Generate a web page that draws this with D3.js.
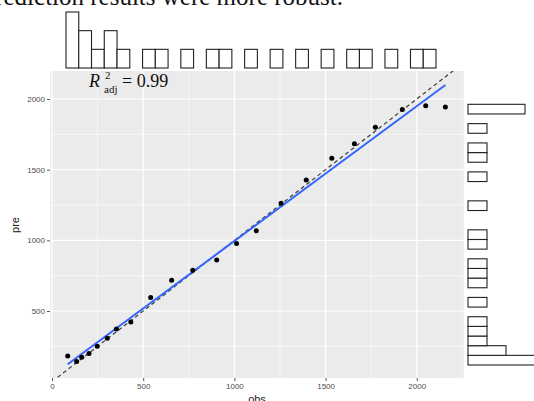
<!DOCTYPE html>
<html lang="en">
<head>
    <meta charset="UTF-8">
    <title>obs vs pre</title>
    <script type="text/javascript" src="https://cdn.jsdelivr.net/npm/d3@7"></script>
    <style type="text/css">
        body { margin: 0; background: white; }
        svg { display: block; }
        .tick-label { font-family: "Liberation Sans", Arial, sans-serif; font-size: 8px; fill: #4d4d4d; }
        .axis-title { font-family: "Liberation Sans", Arial, sans-serif; font-size: 11px; fill: #222; }
        .serif { font-family: "Liberation Serif", "Times New Roman", serif; fill: #111; }
    </style>
</head>
<body>
    <script type="text/javascript">
        var obs = [86, 135, 163, 203, 248, 303, 353, 432, 541, 656, 772, 903, 1012, 1120, 1256, 1394, 1534, 1658, 1773, 1921, 2049, 2157];
        var pre = [182, 142, 173, 200, 250, 307, 373, 423, 596, 717, 788, 861, 978, 1067, 1262, 1426, 1581, 1684, 1800, 1925, 1952, 1943];

        var xTicks = [0, 500, 1000, 1500, 2000];
        var yTicks = [500, 1000, 1500, 2000];
        var xMinor = [250, 750, 1250, 1750, 2250];
        var yMinor = [250, 750, 1250, 1750];

        // fitted line (lm) and 1:1 reference
        var lmIntercept = 41;
        var lmSlope = 0.954;
        var lmRange = [86, 2157];
        var refRange = [0, 2300];

        // marginal histograms, counts per bin
        var topCounts = [3, 2, 1, 2, 1, 0, 1, 1, 0, 1, 0, 1, 1, 0, 1, 0, 1, 0, 1, 0, 1, 0, 1, 1, 0, 1, 0, 1, 1];
        // right histogram, from the bottom bin upwards
        var rightCounts = [4, 2, 1, 1, 1, 0, 1, 0, 1, 1, 1, 0, 1, 1, 0, 0, 1, 0, 0, 1, 0, 1, 1, 0, 1, 0, 3, 0, 0];

        var rAdjLabel = "0.99";
        var bodyText = "prediction results were more robust.";

        var width = 534;
        var height = 401;
        var panel = { left: 50, right: 464, top: 71, bottom: 378 };

        var svg = d3.select('body')
            .append('svg')
            .attr('width', width)
            .attr('height', height);

        svg.append('rect')
            .attr('width', width)
            .attr('height', height)
            .attr('fill', 'white');

        var scaleX = d3.scaleLinear()
            .domain([-11, 2259])
            .range([panel.left, panel.right]);
        var scaleY = d3.scaleLinear()
            .domain([26, 2198])
            .range([panel.bottom, panel.top]);

        // text of the page the figure sits in (cut off at the top, as in the source)
        svg.append('text')
            .attr('class', 'serif')
            .attr('x', 343)
            .attr('y', 5)
            .attr('text-anchor', 'end')
            .style('font-size', '25px')
            .text(bodyText);

        // panel background
        svg.append('rect')
            .attr('x', panel.left)
            .attr('y', panel.top)
            .attr('width', panel.right - panel.left)
            .attr('height', panel.bottom - panel.top)
            .attr('fill', '#ebebeb');

        svg.append('clipPath')
            .attr('id', 'panel-clip')
            .append('rect')
            .attr('x', panel.left)
            .attr('y', panel.top)
            .attr('width', panel.right - panel.left)
            .attr('height', panel.bottom - panel.top);

        var g = svg.append('g').attr('clip-path', 'url(#panel-clip)');

        // grid
        g.selectAll('.xminor').data(xMinor).enter().append('line')
            .attr('x1', function(d) { return scaleX(d) }).attr('x2', function(d) { return scaleX(d) })
            .attr('y1', panel.top).attr('y2', panel.bottom)
            .attr('stroke', 'white').attr('stroke-width', 0.6);
        g.selectAll('.yminor').data(yMinor).enter().append('line')
            .attr('y1', function(d) { return scaleY(d) }).attr('y2', function(d) { return scaleY(d) })
            .attr('x1', panel.left).attr('x2', panel.right)
            .attr('stroke', 'white').attr('stroke-width', 0.6);
        g.selectAll('.xmajor').data(xTicks).enter().append('line')
            .attr('x1', function(d) { return scaleX(d) }).attr('x2', function(d) { return scaleX(d) })
            .attr('y1', panel.top).attr('y2', panel.bottom)
            .attr('stroke', 'white').attr('stroke-width', 1.2);
        g.selectAll('.ymajor').data(yTicks).enter().append('line')
            .attr('y1', function(d) { return scaleY(d) }).attr('y2', function(d) { return scaleY(d) })
            .attr('x1', panel.left).attr('x2', panel.right)
            .attr('stroke', 'white').attr('stroke-width', 1.2);

        // 1:1 dashed line
        g.append('line')
            .attr('x1', scaleX(refRange[0])).attr('y1', scaleY(refRange[0]))
            .attr('x2', scaleX(refRange[1])).attr('y2', scaleY(refRange[1]))
            .attr('stroke', '#3a3a3a')
            .attr('stroke-width', 1.2)
            .attr('stroke-dasharray', '4,3');

        // fitted line
        g.append('line')
            .attr('x1', scaleX(lmRange[0])).attr('y1', scaleY(lmIntercept + lmSlope * lmRange[0]))
            .attr('x2', scaleX(lmRange[1])).attr('y2', scaleY(lmIntercept + lmSlope * lmRange[1]))
            .attr('stroke', '#3366ff')
            .attr('stroke-width', 2);

        // points
        g.selectAll('circle')
            .data(obs)
            .enter()
            .append('circle')
            .attr('cx', function(d) { return scaleX(d) })
            .attr('cy', function(d, i) { return scaleY(pre[i]) })
            .attr('r', 2.5)
            .attr('fill', 'black');

        // axes
        var axisX = d3.axisBottom(scaleX).tickValues(xTicks).tickFormat(d3.format('d')).tickSize(3).tickPadding(2);
        var axisY = d3.axisLeft(scaleY).tickValues(yTicks).tickFormat(d3.format('d')).tickSize(3).tickPadding(2);
        var gx = svg.append('g')
            .attr('transform', `translate(0, ${panel.bottom})`)
            .call(axisX);
        var gy = svg.append('g')
            .attr('transform', `translate(${panel.left}, 0)`)
            .call(axisY);
        [gx, gy].forEach(function(ax) {
            ax.select('.domain').remove();
            ax.selectAll('.tick line').attr('stroke', '#555');
            ax.selectAll('.tick text').attr('class', 'tick-label').attr('fill', null);
        });

        svg.append('text')
            .attr('class', 'axis-title')
            .attr('x', (panel.left + panel.right) / 2)
            .attr('y', 403)
            .attr('text-anchor', 'middle')
            .text('obs');
        svg.append('text')
            .attr('class', 'axis-title')
            .attr('transform', 'translate(19, 225) rotate(-90)')
            .attr('text-anchor', 'middle')
            .text('pre');

        // R^2 adj annotation
        svg.append('text').attr('class', 'serif')
            .attr('x', 89).attr('y', 86.5)
            .style('font-size', '18px').style('font-style', 'italic')
            .text('R');
        svg.append('text').attr('class', 'serif')
            .attr('x', 105).attr('y', 79)
            .style('font-size', '11px')
            .text('2');
        svg.append('text').attr('class', 'serif')
            .attr('x', 104).attr('y', 92.5)
            .style('font-size', '11px')
            .text('adj');
        svg.append('text').attr('class', 'serif')
            .attr('x', 122).attr('y', 86.5)
            .style('font-size', '18px')
            .text('= ' + rAdjLabel);

        // top marginal histogram
        var topBinX = d3.scaleLinear().domain([0, topCounts.length]).range([66, 436]);
        var topCountY = d3.scaleLinear().domain([0, 3]).range([68, 12]);
        svg.append('g').selectAll('rect')
            .data(topCounts)
            .enter()
            .append('rect')
            .attr('x', function(d, i) { return topBinX(i) })
            .attr('width', function(d, i) { return topBinX(i + 1) - topBinX(i) })
            .attr('y', function(d) { return topCountY(d) })
            .attr('height', function(d) { return topCountY(0) - topCountY(d) })
            .attr('fill', 'white')
            .attr('stroke', '#222')
            .attr('stroke-width', 1.1);

        // right marginal histogram
        var rightBinY = d3.scaleLinear().domain([0, rightCounts.length]).range([365, 85]);
        var rightCountX = d3.scaleLinear().domain([0, 3]).range([468, 525]);
        svg.append('g').selectAll('rect')
            .data(rightCounts)
            .enter()
            .append('rect')
            .attr('y', function(d, i) { return rightBinY(i + 1) })
            .attr('height', function(d, i) { return rightBinY(i) - rightBinY(i + 1) })
            .attr('x', rightCountX(0))
            .attr('width', function(d) { return rightCountX(d) - rightCountX(0) })
            .attr('fill', 'white')
            .attr('stroke', '#222')
            .attr('stroke-width', 1.1);
    </script>
</body>
</html>
